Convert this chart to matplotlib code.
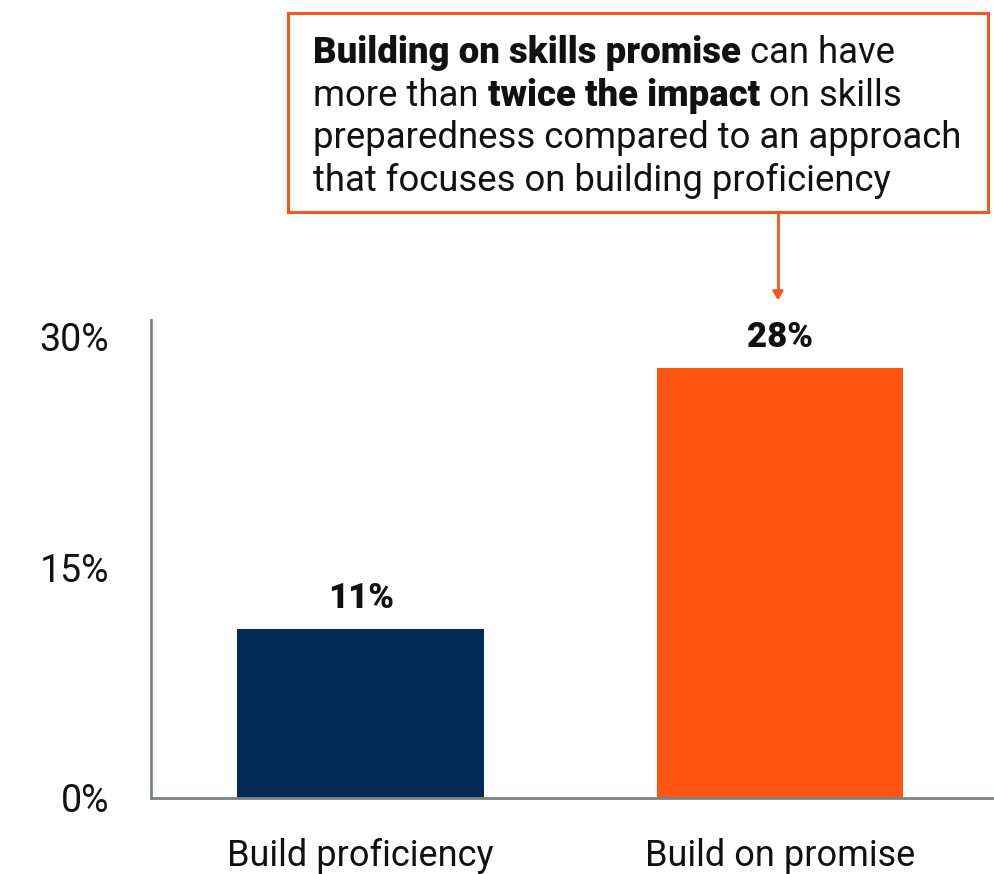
import matplotlib.pyplot as plt
from matplotlib.patches import Rectangle

plt.rcParams['font.family'] = ['Roboto', 'DejaVu Sans']

categories = ['Build proficiency', 'Build on promise']
values = [11, 28]
colors = ['#032957', '#FF5511']
yticks = [0, 15, 30]

# callout text: each line is a list of (text, bold) pieces
callout = [
    [('Building on skills promise', True), (' can have', False)],
    [('more than ', False), ('twice the impact', True), (' on skills', False)],
    [('preparedness compared to an approach', False)],
    [('that focuses on building proficiency', False)],
]

W, H = 994, 874
fig = plt.figure(figsize=(W / 100, H / 100), dpi=100)
ax = fig.add_axes([151 / W, 76 / H, (W - 151) / W, 478 / H])

x = range(len(categories))
ax.bar(x, values, width=0.588, color=colors)
for xi, v in zip(x, values):
    ax.annotate(f'{v}%', (xi, v), xytext=(0, 10), textcoords='offset points',
                ha='center', va='bottom', fontsize=25, fontweight='heavy',
                color='#111111')

ax.set_xlim(-0.5, 1.51)
ax.set_ylim(0, 31.1)
ax.set_xticks(list(x), categories)
ax.set_yticks(yticks, [f'{t}%' for t in yticks])
ax.tick_params(axis='both', length=0, colors='#111111')
ax.tick_params(axis='x', pad=29, labelsize=26)
ax.tick_params(axis='y', pad=30, labelsize=27)
for s in ['top', 'right']:
    ax.spines[s].set_visible(False)
for s in ['left', 'bottom']:
    ax.spines[s].set_color('#7a8384')
    ax.spines[s].set_linewidth(2)

# callout box and arrow
orange = '#F4571F'
fig.patches.append(Rectangle((288 / W, 1 - 212 / H), 700 / W, 199 / H,
                             transform=fig.transFigure, fill=False,
                             edgecolor=orange, linewidth=2.2))
fig.add_artist(plt.Line2D([778 / W, 778 / W], [1 - 212 / H, 1 - 295 / H],
                          color=orange, linewidth=2, transform=fig.transFigure))
ax.annotate('', xy=(778 / W, 1 - 303 / H), xytext=(778 / W, 1 - 290 / H),
            xycoords='figure fraction',
            arrowprops=dict(arrowstyle='-|>,head_length=0.5,head_width=0.3',
                            color=orange, lw=2))

fig.canvas.draw()
renderer = fig.canvas.get_renderer()
y0 = 1 - 63 / H
for i, line in enumerate(callout):
    xpos = 313 / W
    y = y0 - i * 42.5 / H
    for txt, bold in line:
        t = fig.text(xpos, y, txt, fontsize=26.3, va='baseline', ha='left',
                     fontweight='heavy' if bold else 'normal', color='#111111')
        bb = t.get_window_extent(renderer)
        xpos += bb.width / W

fig.savefig('out.png', dpi=100)
